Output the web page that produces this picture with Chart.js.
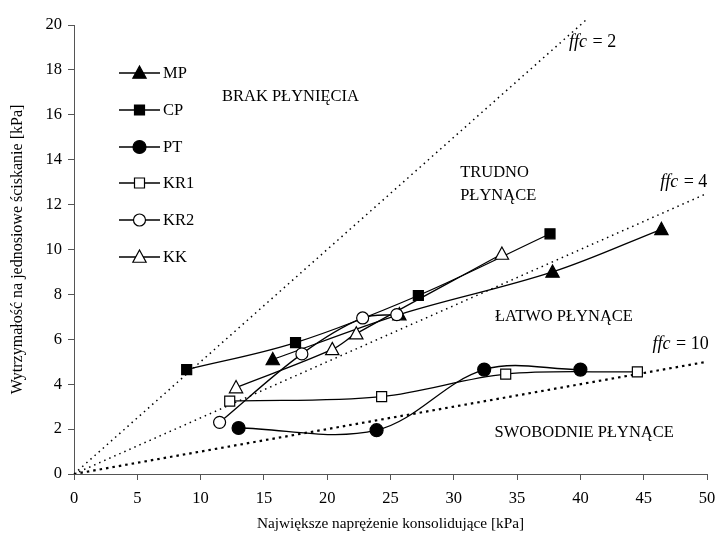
<!DOCTYPE html>
<html>
<head>
<meta charset="utf-8">
<script src="https://cdn.jsdelivr.net/npm/chart.js@4.4.1/dist/chart.umd.min.js"></script>
<style>
  html, body { margin: 0; padding: 0; background: #fff; }
  #wrap { width: 717px; height: 543px; }
</style>
</head>
<body>
<div id="wrap"><canvas id="myChart" width="717" height="543"></canvas></div>
<script>
// series: x = consolidation stress, y = unconfined strength [kPa]
var names = ["MP", "CP", "PT", "KR1", "KR2", "KK"];
var xMP  = [15.7, 25.7, 37.8, 46.4];
var yMP  = [5.1, 7.1, 9.0, 10.9];
var xCP  = [8.9, 17.5, 27.2, 37.6];
var yCP  = [4.65, 5.85, 7.95, 10.7];
var xPT  = [13.0, 23.9, 32.4, 40.0];
var yPT  = [2.05, 1.95, 4.65, 4.65];
var xKR1 = [12.3, 24.3, 34.1, 44.5];
var yKR1 = [3.25, 3.45, 4.45, 4.55];
var xKR2 = [11.5, 18.0, 22.8, 25.5];
var yKR2 = [2.3, 5.35, 6.95, 7.1];
var xKK  = [12.8, 20.4, 22.3, 33.8];
var yKK  = [3.85, 5.55, 6.25, 9.8];

// ffc limit lines (end points)
var ffcLabels = ["2", "4", "10"];
var ffcX = [[0, 40.6], [0, 50], [0, 50]];
var ffcY = [[0, 20.3], [0, 12.5], [0, 5]];

var xTicks = [0, 5, 10, 15, 20, 25, 30, 35, 40, 45, 50];
var yTicks = [0, 2, 4, 6, 8, 10, 12, 14, 16, 18, 20];

var FONT = "'Liberation Serif', 'DejaVu Serif', serif";

function pts(xs, ys) {
    return xs.map(function(x, i){ return {x: x, y: ys[i]}; });
}

// marker look per series: shape, filled, radius
var marks = [
    {shape: "triangle", fill: true,  r: 6},
    {shape: "rect",     fill: true,  r: 5},
    {shape: "circle",   fill: true,  r: 6.5},
    {shape: "rect",     fill: false, r: 5},
    {shape: "circle",   fill: false, r: 6},
    {shape: "triangle", fill: false, r: 6}
];
var seriesX = [xMP, xCP, xPT, xKR1, xKR2, xKK];
var seriesY = [yMP, yCP, yPT, yKR1, yKR2, yKK];

function drawMark(ctx, m, x, y) {
    ctx.save();
    ctx.beginPath();
    if (m.shape === "circle") {
        ctx.arc(x, y, m.r, 0, Math.PI * 2);
    } else if (m.shape === "rect") {
        ctx.rect(x - m.r, y - m.r, m.r * 2, m.r * 2);
    } else {
        var r = m.r + 1;
        ctx.moveTo(x, y - r);
        ctx.lineTo(x + r * 0.95, y + r * 0.75);
        ctx.lineTo(x - r * 0.95, y + r * 0.75);
        ctx.closePath();
    }
    ctx.fillStyle = m.fill ? "#000" : "#fff";
    ctx.fill();
    ctx.lineWidth = 1.2;
    ctx.strokeStyle = "#000";
    ctx.stroke();
    ctx.restore();
}

var datasets = [];
// limit lines first so series draw above them
var dashes = [[1.5, 4], [1.5, 4], [2.5, 4]];
var widths = [1.5, 1.5, 2.2];
ffcLabels.forEach(function(l, i){
    datasets.push({
        label: "ffc = " + l,
        data: pts(ffcX[i], ffcY[i]),
        showLine: true,
        borderColor: "#000",
        borderWidth: widths[i],
        borderDash: dashes[i],
        pointRadius: 0,
        tension: 0,
        clip: i === 0 ? false : 0
    });
});
names.forEach(function(n, i){
    datasets.push({
        label: n,
        data: pts(seriesX[i], seriesY[i]),
        showLine: true,
        borderColor: "#000",
        borderWidth: 1.3,
        tension: 0.35,
        pointRadius: 0,
        mark: marks[i]
    });
});

// draw the markers by hand so they match the picture
var markerPlugin = {
    id: "markers",
    afterDatasetsDraw: function(chart) {
        var ctx = chart.ctx;
        chart.data.datasets.forEach(function(ds, di){
            if (!ds.mark) return;
            var meta = chart.getDatasetMeta(di);
            meta.data.forEach(function(p){ drawMark(ctx, ds.mark, p.x, p.y); });
        });
    }
};

// legend inside plot + region texts
var legendY = [73, 110, 147, 183, 220, 257];
var regionTexts = [
    {t: "BRAK PŁYNIĘCIA", x: 17.1, y: 16.8},
    {t: "TRUDNO", x: 30.5, y: 13.4, left: true},
    {t: "PŁYNĄCE", x: 30.5, y: 12.4, left: true},
    {t: "ŁATWO PŁYNĄCE", x: 38.7, y: 7.0},
    {t: "SWOBODNIE PŁYNĄCE", x: 40.3, y: 1.85}
];
var ffcPos = [{x: 39.1, y: 19.25}, {x: 46.3, y: 13.0}, {x: 45.7, y: 5.8}];

var textPlugin = {
    id: "texts",
    afterDraw: function(chart) {
        var ctx = chart.ctx;
        var sx = chart.scales.x, sy = chart.scales.y;
        ctx.save();
        ctx.fillStyle = "#000";
        ctx.textBaseline = "middle";
        ctx.font = "16.5px " + FONT;
        regionTexts.forEach(function(r){
            ctx.textAlign = r.left ? "left" : "center";
            ctx.fillText(r.t, sx.getPixelForValue(r.x), sy.getPixelForValue(r.y));
        });
        ctx.textAlign = "left";
        ffcLabels.forEach(function(l, i){
            var px = sx.getPixelForValue(ffcPos[i].x), py = sy.getPixelForValue(ffcPos[i].y);
            ctx.font = "italic 18px " + FONT;
            ctx.fillText("ffc", px, py);
            var w = ctx.measureText("ffc").width;
            ctx.font = "18px " + FONT;
            ctx.fillText(" = " + l, px + w + 1, py);
        });
        // legend
        ctx.font = "16.5px " + FONT;
        names.forEach(function(n, i){
            var y = legendY[i];
            ctx.beginPath();
            ctx.moveTo(119, y);
            ctx.lineTo(160, y);
            ctx.lineWidth = 1.3;
            ctx.strokeStyle = "#000";
            ctx.stroke();
            drawMark(ctx, marks[i], 139.5, y);
            ctx.fillText(n, 163, y + 1);
        });
        ctx.restore();
    }
};

var axisColor = "#555";
new Chart(document.getElementById("myChart").getContext("2d"), {
    type: "scatter",
    data: { datasets: datasets },
    plugins: [markerPlugin, textPlugin],
    options: {
        responsive: false,
        animation: false,
        layout: { padding: { top: 25, right: 10, left: 0, bottom: 0 } },
        plugins: { legend: { display: false }, tooltip: { enabled: false } },
        scales: {
            x: {
                type: "linear", min: 0, max: 50,
                afterBuildTicks: function(s){ s.ticks = xTicks.map(function(v){ return {value: v}; }); },
                afterFit: function(s){ s.height = 69; s.paddingLeft = 0; s.paddingRight = 0; },
                grid: { drawOnChartArea: false, drawTicks: true, tickLength: 6, color: axisColor },
                border: { display: true, color: axisColor, width: 1 },
                ticks: { color: "#000", font: { family: FONT, size: 16.5 }, padding: 9, maxRotation: 0 },
                title: { display: true, text: "Największe naprężenie konsolidujące [kPa]", color: "#000",
                         font: { family: FONT, size: 15.3 }, padding: { top: 0, bottom: 10 } }
            },
            y: {
                type: "linear", min: 0, max: 20,
                afterBuildTicks: function(s){ s.ticks = yTicks.map(function(v){ return {value: v}; }); },
                afterFit: function(s){ s.width = 74; s.paddingTop = 0; s.paddingBottom = 0; },
                grid: { drawOnChartArea: false, drawTicks: true, tickLength: 6, color: axisColor },
                border: { display: true, color: axisColor, width: 1 },
                ticks: { color: "#000", font: { family: FONT, size: 16.5 }, padding: 6 },
                title: { display: true, text: "Wytrzymałość na jednosiowe ściskanie [kPa]", color: "#000",
                         font: { family: FONT, size: 16 }, padding: { top: 8, bottom: 0 } }
            }
        }
    }
});
</script>
</body>
</html>
